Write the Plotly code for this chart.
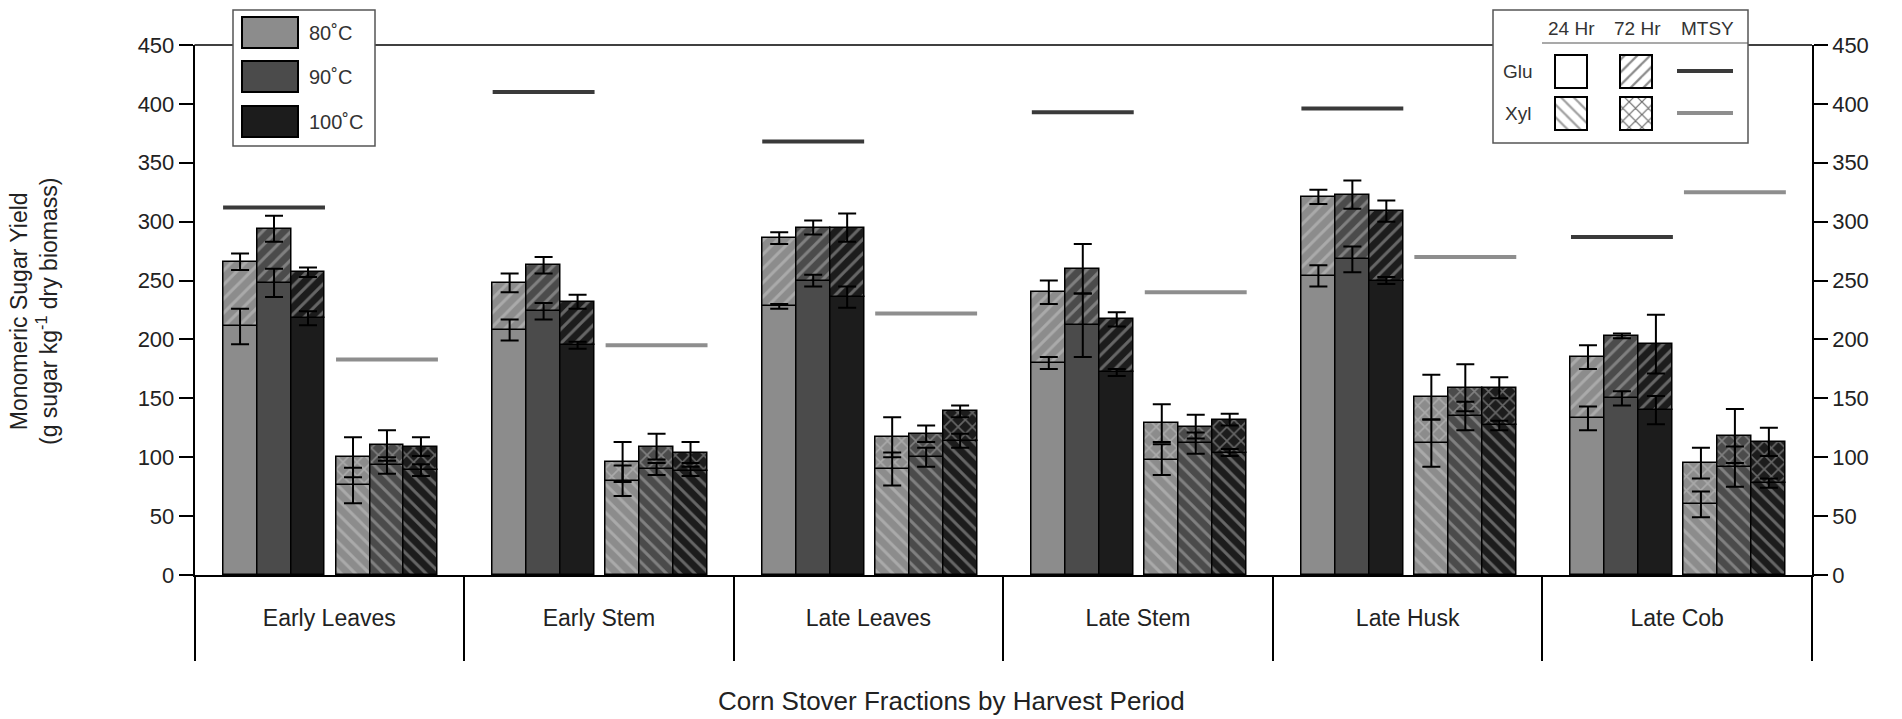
import plotly.graph_objects as go

# ---------------- data ----------------
categories = ["Early Leaves", "Early Stem", "Late Leaves", "Late Stem", "Late Husk", "Late Cob"]
temps = ["80˚C", "90˚C", "100˚C"]

# rows: 80, 90, 100 C ; columns: categories
glu_24h = [[211, 208, 228, 180, 254, 133],
           [248, 224, 250, 212, 268, 150],
           [218, 195, 236, 172, 250, 140]]
glu_24h_err = [[15, 9, 2, 5, 9, 10],
               [12, 7, 5, 27, 11, 6],
               [6, 3, 9, 3, 3, 12]]
glu_72h = [[266, 248, 286, 240, 321, 185],
           [294, 263, 295, 260, 323, 203],
           [257, 232, 295, 217, 309, 196]]
glu_72h_err = [[7, 8, 5, 10, 6, 10],
               [11, 7, 6, 21, 12, 2],
               [4, 6, 12, 6, 9, 25]]
xyl_24h = [[76, 80, 90, 98, 112, 60],
           [93, 90, 100, 112, 135, 92],
           [89, 88, 114, 104, 127, 78]]
xyl_24h_err = [[15, 13, 14, 13, 20, 11],
               [7, 5, 8, 9, 12, 17],
               [5, 4, 6, 3, 4, 4]]
xyl_72h = [[100, 96, 117, 129, 151, 95],
           [110, 109, 120, 126, 159, 118],
           [109, 104, 139, 132, 159, 113]]
xyl_72h_err = [[17, 17, 17, 16, 19, 13],
               [13, 11, 7, 10, 20, 23],
               [8, 9, 5, 5, 9, 12]]
glu_mtsy = [312, 410, 368, 393, 396, 287]
xyl_mtsy = [183, 195, 222, 240, 270, 325]
y_ticks = [0, 50, 100, 150, 200, 250, 300, 350, 400, 450]

# ---------------- style / layout constants ----------------
W, H = 1902, 719
PL, PR, PT, PB = 194.5, 1812, 45, 575
FONT = "Liberation Sans, Arial, sans-serif"
fills = ["#8c8c8c", "#4b4b4b", "#1c1c1c"]
hatch = ["#aaaaaa", "#808080", "#666666"]
glu_off = [0.169, 0.295, 0.421]
xyl_off = [0.588, 0.714, 0.840]
bw = 0.126
n = len(categories)

fig = go.Figure()

def pat(shape, k):
    return dict(shape=shape, fgcolor=hatch[k], bgcolor=fills[k], size=10,
                solidity=0.3, fillmode="replace")

outline = dict(color="black", width=1.5)

for k in range(3):
    xg = [i + glu_off[k] for i in range(n)]
    xx = [i + xyl_off[k] for i in range(n)]
    # Glu 24 h (plain)
    fig.add_trace(go.Bar(x=xg, y=glu_24h[k], width=bw,
                         marker=dict(color=fills[k], line=outline)))
    # Glu 72 h increment (/ hatch)
    fig.add_trace(go.Bar(x=xg, y=[a - b for a, b in zip(glu_72h[k], glu_24h[k])],
                         base=glu_24h[k], width=bw,
                         marker=dict(color=fills[k], line=outline, pattern=pat("/", k))))
    # Xyl 24 h (\ hatch)
    fig.add_trace(go.Bar(x=xx, y=xyl_24h[k], width=bw,
                         marker=dict(color=fills[k], line=outline, pattern=pat("\\", k))))
    # Xyl 72 h increment (x hatch)
    fig.add_trace(go.Bar(x=xx, y=[a - b for a, b in zip(xyl_72h[k], xyl_24h[k])],
                         base=xyl_24h[k], width=bw,
                         marker=dict(color=fills[k], line=outline, pattern=pat("x", k))))

eb = dict(type="data", color="black", thickness=2, width=9)
for k in range(3):
    xg = [i + glu_off[k] for i in range(n)]
    xx = [i + xyl_off[k] for i in range(n)]
    for xs, ys, es in [(xg, glu_24h[k], glu_24h_err[k]), (xg, glu_72h[k], glu_72h_err[k]),
                       (xx, xyl_24h[k], xyl_24h_err[k]), (xx, xyl_72h[k], xyl_72h_err[k])]:
        fig.add_trace(go.Scatter(x=xs, y=ys, mode="markers",
                                 marker=dict(size=1, color="rgba(0,0,0,0)"),
                                 error_y=dict(array=es, **eb), hoverinfo="skip"))

# MTSY lines
def seg(vals, off):
    xs, ys = [], []
    for i, v in enumerate(vals):
        xs += [i + off[0] - bw / 2, i + off[2] + bw / 2, None]
        ys += [v, v, None]
    return xs, ys

gx, gy = seg(glu_mtsy, glu_off)
fig.add_trace(go.Scatter(x=gx, y=gy, mode="lines", line=dict(color="#3a3a3a", width=4), hoverinfo="skip"))
xx_, xy_ = seg(xyl_mtsy, xyl_off)
fig.add_trace(go.Scatter(x=xx_, y=xy_, mode="lines", line=dict(color="#8e8e8e", width=4), hoverinfo="skip"))

# y axis on the right (same scale)
fig.add_trace(go.Scatter(x=[0], y=[0], yaxis="y3", mode="markers",
                         marker=dict(size=1, color="rgba(0,0,0,0)"), hoverinfo="skip"))

# ---------------- legends (drawn in a pixel-space auxiliary axis) ----------------
shapes = []
annots = []
# top border line of plot (interrupted by the legend boxes)
shapes.append(dict(type="line", xref="x2", yref="y2", x0=PL, x1=PR, y0=PT, y1=PT,
                   line=dict(color="black", width=1.5), layer="below"))
# temperature legend
shapes.append(dict(type="rect", xref="x2", yref="y2", x0=233, x1=375, y0=10, y1=146,
                   fillcolor="white", line=dict(color="#555", width=1.5), layer="below"))
for k, (y0, y1) in enumerate([(17, 48), (61, 92), (106, 137)]):
    shapes.append(dict(type="rect", xref="x2", yref="y2", x0=242, x1=298, y0=y0, y1=y1,
                       fillcolor=fills[k], line=dict(color="black", width=2), layer="above"))
    annots.append(dict(x=307, y=(y0 + y1) / 2, xref="x2", yref="y2", text=temps[k],
                       showarrow=False, xanchor="left", yanchor="middle",
                       font=dict(family=FONT, size=20, color="#333")))
# time / sugar legend
shapes.append(dict(type="rect", xref="x2", yref="y2", x0=1493, x1=1748, y0=10, y1=143,
                   fillcolor="white", line=dict(color="#555", width=1.5), layer="below"))
shapes.append(dict(type="line", xref="x2", yref="y2", x0=1542, x1=1748, y0=43, y1=43,
                   line=dict(color="#555", width=1.2), layer="below"))
for txt, xc in [("24 Hr", 1571), ("72 Hr", 1637), ("MTSY", 1707)]:
    annots.append(dict(x=xc, y=28, xref="x2", yref="y2", text=txt, showarrow=False,
                       xanchor="center", yanchor="middle",
                       font=dict(family=FONT, size=19, color="#333")))
for txt, yc in [("Glu", 71), ("Xyl", 113)]:
    annots.append(dict(x=1518, y=yc, xref="x2", yref="y2", text=txt, showarrow=False,
                       xanchor="center", yanchor="middle",
                       font=dict(family=FONT, size=19, color="#333")))
shapes.append(dict(type="line", xref="x2", yref="y2", x0=1677, x1=1733, y0=71, y1=71,
                   line=dict(color="#3a3a3a", width=4)))
shapes.append(dict(type="line", xref="x2", yref="y2", x0=1677, x1=1733, y0=113, y1=113,
                   line=dict(color="#8e8e8e", width=4)))

sw = [  # (x centre, y top, pattern, fg)
    (1571, 55, "", "#777"),
    (1636, 55, "/", "#8a8a8a"),
    (1571, 97, "\\", "#a0a0a0"),
    (1636, 97, "x", "#6a6a6a"),
]
for xc, yt, shp, fg in sw:
    fig.add_trace(go.Bar(x=[xc], y=[33], base=[yt], width=[32], xaxis="x2", yaxis="y2",
                         marker=dict(color="white", line=dict(color="black", width=2),
                                     pattern=dict(shape=shp, fgcolor=fg, bgcolor="white",
                                                  size=9, solidity=0.25, fillmode="replace")),
                         hoverinfo="skip"))

# axis titles
annots.append(dict(x=951, y=701, xref="x2", yref="y2", text="Corn Stover Fractions by Harvest Period",
                   showarrow=False, xanchor="center", yanchor="middle",
                   font=dict(family=FONT, size=26, color="#222")))
annots.append(dict(x=34, y=312, xref="x2", yref="y2",
                   text="Monomeric Sugar Yield<br>(g sugar kg<sup>-1</sup> dry biomass)",
                   textangle=-90, showarrow=False, xanchor="center", yanchor="middle",
                   font=dict(family=FONT, size=23, color="#222")))

yax = dict(range=[0, 450], tickmode="array", tickvals=y_ticks, ticks="outside", ticklen=14,
           tickwidth=1.5, tickcolor="black", showline=True, linecolor="black", linewidth=1.5,
           showgrid=False, zeroline=False, automargin=False,
           tickfont=dict(family=FONT, size=22, color="#222"),
           domain=[1 - PB / H, 1 - PT / H])

fig.update_layout(
    width=W, height=H, template="none",
    margin=dict(l=0, r=0, t=0, b=0, pad=0),
    paper_bgcolor="white", plot_bgcolor="rgba(0,0,0,0)",
    barmode="overlay", showlegend=False, bargap=0,
    font=dict(family=FONT, color="#222"),
    xaxis=dict(domain=[PL / W, PR / W], range=[0, n], tickmode="array",
               tickvals=[i + 0.5 for i in range(n)], ticktext=categories,
               ticks="outside", ticklen=22, tickcolor="rgba(0,0,0,0)",
               minor=dict(tickmode="array", tickvals=list(range(n + 1)), ticks="outside",
                          ticklen=84, tickwidth=1.5, tickcolor="black"),
               showline=True, linecolor="black", linewidth=1.5, showgrid=False,
               zeroline=False, automargin=False, anchor="y",
               tickfont=dict(family=FONT, size=23, color="#222")),
    yaxis=dict(side="left", anchor="x", **yax),
    yaxis3=dict(side="right", overlaying="y", anchor="x", **yax),
    xaxis2=dict(domain=[0, 1], range=[0, W], visible=False, anchor="y2", fixedrange=True),
    yaxis2=dict(domain=[0, 1], range=[H, 0], visible=False, anchor="x2", fixedrange=True),
    shapes=shapes, annotations=annots,
)

fig.write_html("out.html")
